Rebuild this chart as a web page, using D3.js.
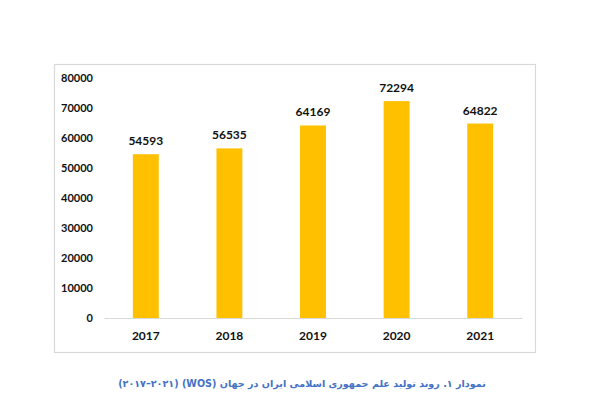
<!DOCTYPE html>
<html><head><meta charset="utf-8">
<script src="https://cdn.jsdelivr.net/npm/d3@7"></script>
<style>body{margin:0;background:#fff}svg{display:block}</style>
</head><body>
<svg id="c" width="600" height="400"></svg>
<script>
const years = ["2017","2018","2019","2020","2021"];
const values = [54593, 56535, 64169, 72294, 64822];
const yTicks = [0,10000,20000,30000,40000,50000,60000,70000,80000];
const caption = "نمودار ۱. روند تولید علم جمهوری اسلامی ایران در جهان (WOS) (۲۰۱۷–۲۰۲۱)";

const svg = d3.select("#c");
svg.append("rect").attr("x",54.5).attr("y",64.5).attr("width",481).attr("height",288)
  .attr("fill","#fff").attr("stroke","#d9d9d9").attr("stroke-width",1.2);

const x = d3.scaleBand().domain(years).range([104,522]).paddingInner(0.69).paddingOuter(0.345);
const y = d3.scaleLinear().domain([0,80000]).range([318,78]);

const font = "Lato, 'Open Sans', sans-serif";

// y axis labels
const ya = svg.append("g").attr("transform","translate(93,0)")
  .call(d3.axisLeft(y).tickValues(yTicks).tickSize(0).tickPadding(0).tickFormat(d3.format("d")));
ya.select(".domain").remove();
ya.selectAll("text").attr("font-family",font).attr("font-weight","bold").attr("font-size",11).attr("fill","#111");

// bars
svg.append("g").selectAll("rect").data(values).join("rect")
  .attr("x",(d,i)=>x(years[i])).attr("width",x.bandwidth())
  .attr("y",d=>y(d)).attr("height",d=>y(0)-y(d)).attr("fill","#FFC000");

// x axis
const xa = svg.append("g").attr("transform","translate(0,318)")
  .call(d3.axisBottom(x).tickSize(0).tickPadding(13));
xa.select(".domain").attr("stroke","#d9d9d9").attr("stroke-width",1.2);
xa.selectAll("text").attr("font-family",font).attr("font-weight","bold").attr("font-size",12).attr("fill","#111");

// value labels
svg.append("g").selectAll("text").data(values).join("text")
  .attr("x",(d,i)=>x(years[i])+x.bandwidth()/2).attr("y",d=>y(d)-9)
  .attr("text-anchor","middle").attr("font-family",font).attr("font-weight","bold")
  .attr("font-size",12).attr("fill","#111").text(d=>d);

// caption
svg.append("text").attr("x",302).attr("y",387).attr("text-anchor","middle")
  .attr("direction","rtl").attr("font-family","'DejaVu Sans', sans-serif").attr("font-weight","bold")
  .attr("font-size",9.6).attr("fill","#4472C4").text(caption);
</script>
</body></html>
